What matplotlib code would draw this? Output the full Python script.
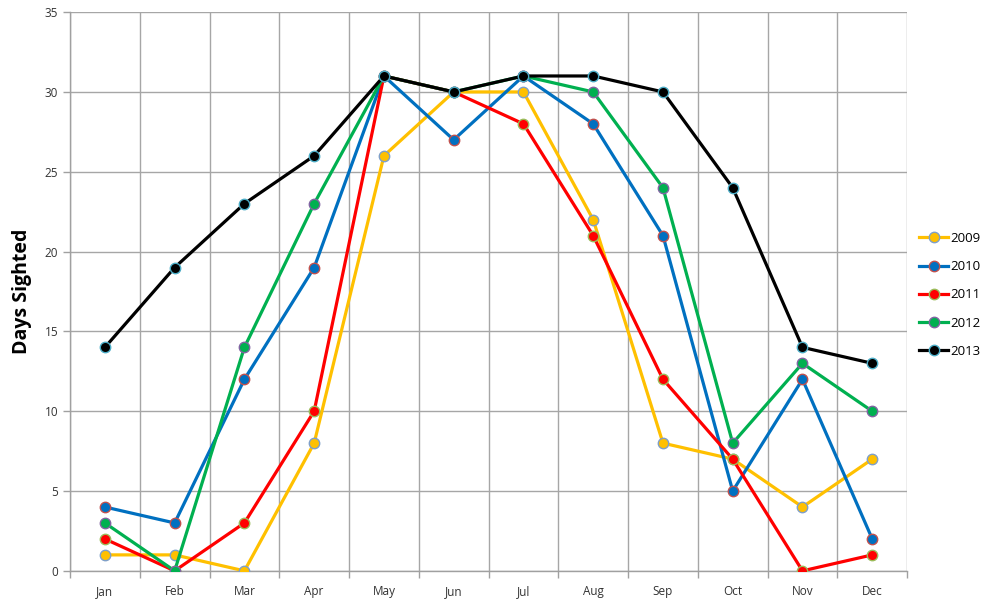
import numpy as np
import matplotlib.pyplot as plt
from matplotlib.ticker import FixedLocator, NullFormatter

months = ['Jan', 'Feb', 'Mar', 'Apr', 'May', 'Jun',
          'Jul', 'Aug', 'Sep', 'Oct', 'Nov', 'Dec']
years = ['2009', '2010', '2011', '2012', '2013']

days_2009 = [1, 1, 0, 8, 26, 30, 30, 22, 8, 7, 4, 7]
days_2010 = [4, 3, 12, 19, 31, 27, 31, 28, 21, 5, 12, 2]
days_2011 = [2, 0, 3, 10, 31, 30, 28, 21, 12, 7, 0, 1]
days_2012 = [3, 0, 14, 23, 31, 30, 31, 30, 24, 8, 13, 10]
days_2013 = [14, 19, 23, 26, 31, 30, 31, 31, 30, 24, 14, 13]

series = [days_2009, days_2010, days_2011, days_2012, days_2013]
line_colors = ['#FFC000', '#0070C0', '#FF0000', '#00B050', '#000000']
edge_colors = ['#7F9FC8', '#C0504D', '#9BBB59', '#8064A2', '#4BACC6']

plt.rcParams['font.family'] = ['Open Sans', 'DejaVu Sans']

fig = plt.figure(figsize=(9.86, 6.06), dpi=100)
ax = fig.add_axes([0.071, 0.058, 0.849, 0.922])

x = np.arange(len(months))
for year, vals, lc, ec in zip(years, series, line_colors, edge_colors):
    ax.plot(x, vals, color=lc, lw=2.3, marker='o', markersize=7.5,
            markerfacecolor=lc, markeredgecolor=ec, markeredgewidth=1.0,
            label=year, zorder=3)

ax.set_xlim(-0.5, len(months) - 0.5)
ax.set_ylim(0, 35)
ax.set_yticks(np.arange(0, 36, 5))
ax.set_xticks(x)
ax.set_xticklabels(months)
# gridlines and tick marks sit between the month categories
ax.xaxis.set_minor_locator(FixedLocator(np.arange(-0.5, len(months), 1)))
ax.xaxis.set_minor_formatter(NullFormatter())

ax.tick_params(axis='x', which='major', length=0, pad=10,
               labelsize=8.5, labelcolor='#333333')
ax.tick_params(axis='x', which='minor', length=5, color='#A0A0A0', width=1)
ax.tick_params(axis='y', length=5, color='#A0A0A0', width=1,
               labelsize=8.5, labelcolor='#333333')

ax.grid(True, axis='y', which='major', color='#A6A6A6', lw=1.0)
ax.grid(True, axis='x', which='minor', color='#A6A6A6', lw=1.0)
ax.set_axisbelow(True)

for side in ['top', 'right']:
    ax.spines[side].set_visible(False)
for side in ['left', 'bottom']:
    ax.spines[side].set_color('#A0A0A0')
    ax.spines[side].set_linewidth(1.0)

ax.set_ylabel('Days Sighted', fontsize=14, fontweight='bold', labelpad=9)

ax.legend(loc='center left', bbox_to_anchor=(1.0, 0.494), frameon=False,
          fontsize=9.5, handlelength=2.2, labelspacing=1.15, handletextpad=0.2,
          borderaxespad=0.5)

fig.savefig('out.png', dpi=100)
